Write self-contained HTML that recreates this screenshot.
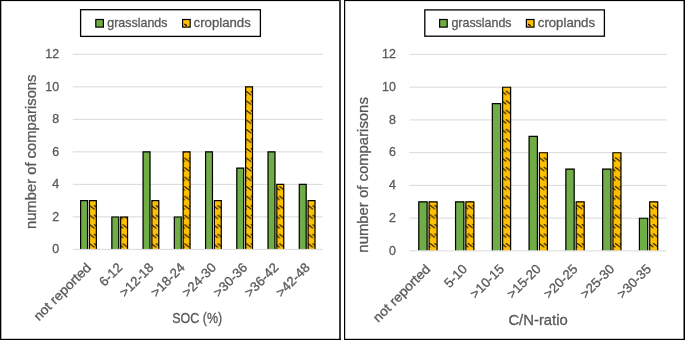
<!DOCTYPE html><html><head><meta charset="utf-8"><style>html,body{margin:0;padding:0;background:#fff;overflow:hidden}svg{display:block}</style></head><body>
<svg width="685" height="340" viewBox="0 0 685 340" font-family="Liberation Sans, sans-serif">
<defs>
<pattern id="hp0" patternUnits="userSpaceOnUse" x="246.1" y="243.3" width="4.75" height="9.52"><rect x="-1" y="-1" width="6.75" height="11.52" fill="#FFC000"/><path d="M-4.45 0.5 L0.05 3.9 M0.3 0.5 L4.8 3.9 M5.05 0.5 L9.55 3.9 " stroke="#000" stroke-opacity="0.9" stroke-width="1.1" stroke-linecap="round"/></pattern>
<pattern id="hp1" patternUnits="userSpaceOnUse" x="505.8" y="243" width="4.75" height="9.52"><rect x="-1" y="-1" width="6.75" height="11.52" fill="#FFC000"/><path d="M-4.45 0.5 L0.05 3.9 M0.3 0.5 L4.8 3.9 M5.05 0.5 L9.55 3.9 " stroke="#000" stroke-opacity="0.9" stroke-width="1.1" stroke-linecap="round"/></pattern>
<filter id="gs" x="0" y="0" width="100%" height="100%" filterUnits="userSpaceOnUse"><feColorMatrix type="saturate" values="0"/></filter>
</defs>
<rect x="0" y="0" width="685" height="340" fill="#fff"/>
<rect x="0" y="0" width="1.3" height="340" fill="#000"/>
<rect x="0" y="0" width="341" height="1.1" fill="#000"/>
<rect x="339" y="0" width="2" height="340" fill="#3c3c3c"/>
<rect x="0" y="338.8" width="341" height="1.2" fill="#000"/>
<line x1="72.8" y1="216.88" x2="322.7" y2="216.88" stroke="#D9D9D9" stroke-width="1"/>
<line x1="72.8" y1="184.37" x2="322.7" y2="184.37" stroke="#D9D9D9" stroke-width="1"/>
<line x1="72.8" y1="151.85" x2="322.7" y2="151.85" stroke="#D9D9D9" stroke-width="1"/>
<line x1="72.8" y1="119.33" x2="322.7" y2="119.33" stroke="#D9D9D9" stroke-width="1"/>
<line x1="72.8" y1="86.82" x2="322.7" y2="86.82" stroke="#D9D9D9" stroke-width="1"/>
<line x1="72.8" y1="54.3" x2="322.7" y2="54.3" stroke="#D9D9D9" stroke-width="1"/>
<rect x="80.32" y="200.43" width="7.5" height="48.67" fill="#70AD47"/>
<path d="M80.62 249.1 V200.72 H87.52 V249.1" fill="none" stroke="#000" stroke-width="1.2"/>
<rect x="89.12" y="200.43" width="7.5" height="48.67" fill="url(#hp0)"/>
<path d="M89.42 249.1 V200.72 H96.32 V249.1" fill="none" stroke="#000" stroke-width="1.2"/>
<rect x="111.56" y="216.68" width="7.5" height="32.42" fill="#70AD47"/>
<path d="M111.86 249.1 V216.98 H118.76 V249.1" fill="none" stroke="#000" stroke-width="1.2"/>
<rect x="120.36" y="216.68" width="7.5" height="32.42" fill="url(#hp0)"/>
<path d="M120.66 249.1 V216.98 H127.56 V249.1" fill="none" stroke="#000" stroke-width="1.2"/>
<rect x="142.79" y="151.65" width="7.5" height="97.45" fill="#70AD47"/>
<path d="M143.09 249.1 V151.95 H149.99 V249.1" fill="none" stroke="#000" stroke-width="1.2"/>
<rect x="151.59" y="200.43" width="7.5" height="48.67" fill="url(#hp0)"/>
<path d="M151.89 249.1 V200.72 H158.79 V249.1" fill="none" stroke="#000" stroke-width="1.2"/>
<rect x="174.03" y="216.68" width="7.5" height="32.42" fill="#70AD47"/>
<path d="M174.33 249.1 V216.98 H181.23 V249.1" fill="none" stroke="#000" stroke-width="1.2"/>
<rect x="182.83" y="151.65" width="7.5" height="97.45" fill="url(#hp0)"/>
<path d="M183.13 249.1 V151.95 H190.03 V249.1" fill="none" stroke="#000" stroke-width="1.2"/>
<rect x="205.27" y="151.65" width="7.5" height="97.45" fill="#70AD47"/>
<path d="M205.57 249.1 V151.95 H212.47 V249.1" fill="none" stroke="#000" stroke-width="1.2"/>
<rect x="214.07" y="200.43" width="7.5" height="48.67" fill="url(#hp0)"/>
<path d="M214.37 249.1 V200.72 H221.27 V249.1" fill="none" stroke="#000" stroke-width="1.2"/>
<rect x="236.51" y="167.91" width="7.5" height="81.19" fill="#70AD47"/>
<path d="M236.81 249.1 V168.21 H243.71 V249.1" fill="none" stroke="#000" stroke-width="1.2"/>
<rect x="245.31" y="86.62" width="7.5" height="162.48" fill="url(#hp0)"/>
<path d="M245.61 249.1 V86.92 H252.51 V249.1" fill="none" stroke="#000" stroke-width="1.2"/>
<rect x="267.74" y="151.65" width="7.5" height="97.45" fill="#70AD47"/>
<path d="M268.04 249.1 V151.95 H274.94 V249.1" fill="none" stroke="#000" stroke-width="1.2"/>
<rect x="276.54" y="184.17" width="7.5" height="64.93" fill="url(#hp0)"/>
<path d="M276.84 249.1 V184.47 H283.74 V249.1" fill="none" stroke="#000" stroke-width="1.2"/>
<rect x="298.98" y="184.17" width="7.5" height="64.93" fill="#70AD47"/>
<path d="M299.28 249.1 V184.47 H306.18 V249.1" fill="none" stroke="#000" stroke-width="1.2"/>
<rect x="307.78" y="200.43" width="7.5" height="48.67" fill="url(#hp0)"/>
<path d="M308.08 249.1 V200.72 H314.98 V249.1" fill="none" stroke="#000" stroke-width="1.2"/>
<line x1="72.8" y1="249.4" x2="322.7" y2="249.4" stroke="#D9D9D9" stroke-width="1"/>
<rect x="80.6" y="9.7" width="179.8" height="26.7" fill="#fff" stroke="#000" stroke-width="1.3"/>
<rect x="95.8" y="19.5" width="7.6" height="7.6" fill="#70AD47" stroke="#000" stroke-width="1.2"/>
<rect x="182.6" y="19.5" width="7.6" height="7.6" fill="#FFC000" stroke="#000" stroke-width="1.2"/>
<path d="M184.4 23.9 L186.8 25.7" stroke="#000" stroke-width="1.2"/>
<rect x="344" y="0" width="1.2" height="340" fill="#000"/>
<rect x="344" y="0" width="341" height="1.1" fill="#000"/>
<rect x="683.5" y="0" width="1.5" height="340" fill="#000"/>
<rect x="344" y="338.8" width="341" height="1.2" fill="#000"/>
<line x1="409.4" y1="218.15" x2="666.8" y2="218.15" stroke="#D9D9D9" stroke-width="1"/>
<line x1="409.4" y1="185.4" x2="666.8" y2="185.4" stroke="#D9D9D9" stroke-width="1"/>
<line x1="409.4" y1="152.65" x2="666.8" y2="152.65" stroke="#D9D9D9" stroke-width="1"/>
<line x1="409.4" y1="119.9" x2="666.8" y2="119.9" stroke="#D9D9D9" stroke-width="1"/>
<line x1="409.4" y1="87.15" x2="666.8" y2="87.15" stroke="#D9D9D9" stroke-width="1"/>
<line x1="409.4" y1="54.4" x2="666.8" y2="54.4" stroke="#D9D9D9" stroke-width="1"/>
<rect x="418.49" y="201.58" width="8.9" height="49.02" fill="#70AD47"/>
<path d="M418.79 250.6 V201.88 H427.09 V250.6" fill="none" stroke="#000" stroke-width="1.2"/>
<rect x="428.79" y="201.58" width="8.6" height="49.02" fill="url(#hp1)"/>
<path d="M429.09 250.6 V201.88 H437.09 V250.6" fill="none" stroke="#000" stroke-width="1.2"/>
<rect x="455.26" y="201.58" width="8.9" height="49.02" fill="#70AD47"/>
<path d="M455.56 250.6 V201.88 H463.86 V250.6" fill="none" stroke="#000" stroke-width="1.2"/>
<rect x="465.56" y="201.58" width="8.6" height="49.02" fill="url(#hp1)"/>
<path d="M465.86 250.6 V201.88 H473.86 V250.6" fill="none" stroke="#000" stroke-width="1.2"/>
<rect x="492.03" y="103.33" width="8.9" height="147.27" fill="#70AD47"/>
<path d="M492.33 250.6 V103.62 H500.63 V250.6" fill="none" stroke="#000" stroke-width="1.2"/>
<rect x="502.33" y="86.95" width="8.6" height="163.65" fill="url(#hp1)"/>
<path d="M502.63 250.6 V87.25 H510.63 V250.6" fill="none" stroke="#000" stroke-width="1.2"/>
<rect x="528.8" y="136.08" width="8.9" height="114.52" fill="#70AD47"/>
<path d="M529.1 250.6 V136.38 H537.4 V250.6" fill="none" stroke="#000" stroke-width="1.2"/>
<rect x="539.1" y="152.45" width="8.6" height="98.15" fill="url(#hp1)"/>
<path d="M539.4 250.6 V152.75 H547.4 V250.6" fill="none" stroke="#000" stroke-width="1.2"/>
<rect x="565.57" y="168.83" width="8.9" height="81.77" fill="#70AD47"/>
<path d="M565.87 250.6 V169.12 H574.17 V250.6" fill="none" stroke="#000" stroke-width="1.2"/>
<rect x="575.87" y="201.58" width="8.6" height="49.02" fill="url(#hp1)"/>
<path d="M576.17 250.6 V201.88 H584.17 V250.6" fill="none" stroke="#000" stroke-width="1.2"/>
<rect x="602.34" y="168.83" width="8.9" height="81.77" fill="#70AD47"/>
<path d="M602.64 250.6 V169.12 H610.94 V250.6" fill="none" stroke="#000" stroke-width="1.2"/>
<rect x="612.64" y="152.45" width="8.6" height="98.15" fill="url(#hp1)"/>
<path d="M612.94 250.6 V152.75 H620.94 V250.6" fill="none" stroke="#000" stroke-width="1.2"/>
<rect x="639.11" y="217.95" width="8.9" height="32.65" fill="#70AD47"/>
<path d="M639.41 250.6 V218.25 H647.71 V250.6" fill="none" stroke="#000" stroke-width="1.2"/>
<rect x="649.41" y="201.58" width="8.6" height="49.02" fill="url(#hp1)"/>
<path d="M649.71 250.6 V201.88 H657.71 V250.6" fill="none" stroke="#000" stroke-width="1.2"/>
<line x1="409.4" y1="250.9" x2="666.8" y2="250.9" stroke="#D9D9D9" stroke-width="1"/>
<rect x="424.8" y="9.9" width="179.6" height="26.3" fill="#fff" stroke="#000" stroke-width="1.3"/>
<rect x="439.6" y="19.5" width="7.6" height="7.6" fill="#70AD47" stroke="#000" stroke-width="1.2"/>
<rect x="526.4" y="19.5" width="7.6" height="7.6" fill="#FFC000" stroke="#000" stroke-width="1.2"/>
<path d="M528.2 23.9 L530.6 25.7" stroke="#000" stroke-width="1.2"/>
<g filter="url(#gs)" stroke="#595959" stroke-width="0.3"><text x="59.1" y="253.2" font-size="12.4" fill="#595959" text-anchor="end">0</text><text x="59.1" y="220.68" font-size="12.4" fill="#595959" text-anchor="end">2</text><text x="59.1" y="188.17" font-size="12.4" fill="#595959" text-anchor="end">4</text><text x="59.1" y="155.65" font-size="12.4" fill="#595959" text-anchor="end">6</text><text x="59.1" y="123.13" font-size="12.4" fill="#595959" text-anchor="end">8</text><text x="59.1" y="90.62" font-size="12.4" fill="#595959" text-anchor="end">10</text><text x="59.1" y="58.1" font-size="12.4" fill="#595959" text-anchor="end">12</text><text transform="translate(91.92,268.4) rotate(-45)" font-size="13.2" fill="#595959" text-anchor="end" textLength="75.0" lengthAdjust="spacingAndGlyphs">not reported</text><text transform="translate(123.16,268.4) rotate(-45)" font-size="13.2" fill="#595959" text-anchor="end">6-12</text><text transform="translate(154.39,268.4) rotate(-45)" font-size="13.2" fill="#595959" text-anchor="end">&gt;12-18</text><text transform="translate(185.63,268.4) rotate(-45)" font-size="13.2" fill="#595959" text-anchor="end">&gt;18-24</text><text transform="translate(216.87,268.4) rotate(-45)" font-size="13.2" fill="#595959" text-anchor="end">&gt;24-30</text><text transform="translate(248.11,268.4) rotate(-45)" font-size="13.2" fill="#595959" text-anchor="end">&gt;30-36</text><text transform="translate(279.34,268.4) rotate(-45)" font-size="13.2" fill="#595959" text-anchor="end">&gt;36-42</text><text transform="translate(310.58,268.4) rotate(-45)" font-size="13.2" fill="#595959" text-anchor="end">&gt;42-48</text><text x="107.3" y="27.4" font-size="12.4" fill="#595959" textLength="60.2" lengthAdjust="spacingAndGlyphs">grasslands</text><text x="193.6" y="27.4" font-size="12.4" fill="#595959" textLength="57.2" lengthAdjust="spacingAndGlyphs">croplands</text><text transform="translate(36.1,151.8) rotate(-90)" font-size="14.1" fill="#595959" text-anchor="middle" textLength="154.6" lengthAdjust="spacingAndGlyphs">number of comparisons</text><text x="197.2" y="322.8" font-size="14.1" fill="#595959" text-anchor="middle" textLength="49.8" lengthAdjust="spacingAndGlyphs">SOC (%)</text><text x="395.9" y="254.7" font-size="12.4" fill="#595959" text-anchor="end">0</text><text x="395.9" y="221.95" font-size="12.4" fill="#595959" text-anchor="end">2</text><text x="395.9" y="189.2" font-size="12.4" fill="#595959" text-anchor="end">4</text><text x="395.9" y="156.45" font-size="12.4" fill="#595959" text-anchor="end">6</text><text x="395.9" y="123.7" font-size="12.4" fill="#595959" text-anchor="end">8</text><text x="395.9" y="90.95" font-size="12.4" fill="#595959" text-anchor="end">10</text><text x="395.9" y="58.2" font-size="12.4" fill="#595959" text-anchor="end">12</text><text transform="translate(431.29,269.9) rotate(-45)" font-size="13.2" fill="#595959" text-anchor="end" textLength="75.0" lengthAdjust="spacingAndGlyphs">not reported</text><text transform="translate(468.06,269.9) rotate(-45)" font-size="13.2" fill="#595959" text-anchor="end">5-10</text><text transform="translate(504.83,269.9) rotate(-45)" font-size="13.2" fill="#595959" text-anchor="end">&gt;10-15</text><text transform="translate(541.6,269.9) rotate(-45)" font-size="13.2" fill="#595959" text-anchor="end">&gt;15-20</text><text transform="translate(578.37,269.9) rotate(-45)" font-size="13.2" fill="#595959" text-anchor="end">&gt;20-25</text><text transform="translate(615.14,269.9) rotate(-45)" font-size="13.2" fill="#595959" text-anchor="end">&gt;25-30</text><text transform="translate(651.91,269.9) rotate(-45)" font-size="13.2" fill="#595959" text-anchor="end">&gt;30-35</text><text x="451.4" y="27.4" font-size="12.4" fill="#595959" textLength="60.2" lengthAdjust="spacingAndGlyphs">grasslands</text><text x="537.8" y="27.4" font-size="12.4" fill="#595959" textLength="57.2" lengthAdjust="spacingAndGlyphs">croplands</text><text transform="translate(367.6,174.9) rotate(-90)" font-size="14.1" fill="#595959" text-anchor="middle" textLength="155.5" lengthAdjust="spacingAndGlyphs">number of comparisons</text><text x="538.1" y="324.5" font-size="14.1" fill="#595959" text-anchor="middle" textLength="59.4" lengthAdjust="spacingAndGlyphs">C/N-ratio</text></g>
</svg></body></html>
